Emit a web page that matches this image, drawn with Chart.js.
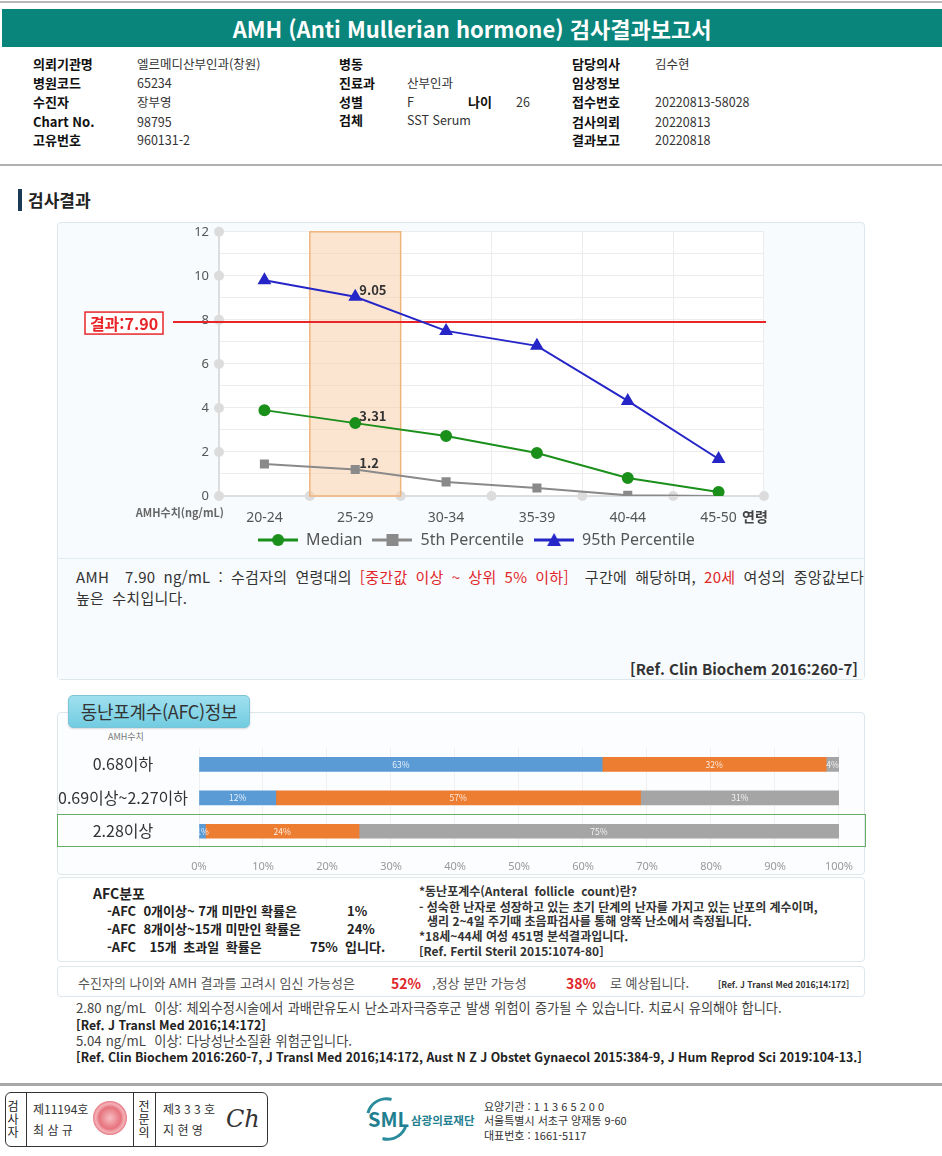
<!DOCTYPE html>
<html lang="ko">
<head>
<meta charset="utf-8">
<title>AMH 검사결과보고서</title>
<script src="https://cdn.jsdelivr.net/npm/chart.js@4.4.1/dist/chart.umd.min.js"></script>
<style>
  * { box-sizing: border-box; margin: 0; padding: 0; }
  html, body { width: 942px; height: 1156px; overflow: hidden; background: #fff; }
  body { position: relative; font-family: 'Noto Sans CJK KR', 'Noto Sans', sans-serif; color: #333; }
  .t { position: absolute; white-space: nowrap; line-height: 16px; }
  .b { font-weight: bold; }
  .red { color: #e0262a; }
  .box { position: absolute; border: 1px solid #dde7ec; border-radius: 4px; }

  .topline { position: absolute; left: 0; top: 1px; width: 942px; height: 2px; background: #b8b8b8; }
  .title { position: absolute; left: 2px; top: 9px; width: 940px; height: 38px; background: #0a857b; color: #fff;
    font: bold 22px 'Liberation Sans Narrow', 'Noto Sans CJK KR', sans-serif; text-align: center; line-height: 38px; }
  .info .lbl { font-size: 13px; font-weight: bold; color: #111; }
  .info .val { font-size: 12.5px; color: #333; }
  .sep { position: absolute; left: 0; width: 942px; height: 2px; background: #b0b0b0; }

  .head-bar { position: absolute; left: 18px; top: 189px; width: 4px; height: 22px; background: #1b3a57; }

  .chart-wrap { position: absolute; }
  .note { font-size: 15px; color: #333; line-height: 21px; letter-spacing: 0.3px; word-spacing: 3.5px; }

  .tab { position: absolute; left: 68px; top: 695px; width: 182px; height: 33px; border-radius: 5px;
    background: linear-gradient(#9fe0ef, #72cce1); border: 1px solid #7cc4d6; box-shadow: 0 1px 2px rgba(0,0,0,0.15);
    font-size: 18px; color: #333; text-align: center; line-height: 31px; letter-spacing: -0.3px; }
  .hl { position: absolute; left: 57px; top: 814px; width: 809px; height: 33px; border: 1.5px solid #66ad66; }

  .afc-l { font-size: 13px; font-weight: bold; color: #222; }
  .afc-r { font-size: 12px; font-weight: bold; color: #333; }
  .preg { font-size: 13px; color: #555; }
  .foot { font-size: 13.2px; color: #444; word-spacing: 0.5px; }
  .ref { font-size: 12.3px; font-weight: bold; color: #222; }

  .stamp { position: absolute; left: 5px; top: 1092px; width: 263px; height: 55px; border: 1px solid #333; border-radius: 6px; }
  .vline { position: absolute; top: 1092px; width: 1px; height: 55px; background: #333; }
  .vert { position: absolute; width: 14px; font-size: 12px; line-height: 13px; text-align: center; color: #222; }
  .seal { position: absolute; left: 93px; top: 1101px; width: 34px; height: 34px; border-radius: 50%;
    background: radial-gradient(circle, #f6b3b8 0%, #e25a66 45%, #f2a4ab 60%, #d94454 75%, #f5c6ca 100%); opacity: 0.85; }
  .sml-arc { position: absolute; left: 366px; top: 1097px; width: 42px; height: 44px; border-radius: 50%;
    border: 3px solid transparent; border-top-color: #2a8c9c; border-bottom-color: #2a8c9c; transform: rotate(-30deg); }
</style>
</head>
<body>

<div class="topline"></div>
<div class="title">AMH (Anti Mullerian hormone) 검사결과보고서</div>

<div class="info">
  <div class="t lbl" style="left:33px;top:56px">의뢰기관명</div>
  <div class="t val" style="left:137px;top:56px">엘르메디산부인과(창원)</div>
  <div class="t lbl" style="left:339px;top:56px">병동</div>
  <div class="t lbl" style="left:572px;top:56px">담당의사</div>
  <div class="t val" style="left:655px;top:56px">김수현</div>

  <div class="t lbl" style="left:33px;top:75px">병원코드</div>
  <div class="t val" style="left:137px;top:75px">65234</div>
  <div class="t lbl" style="left:339px;top:75px">진료과</div>
  <div class="t val" style="left:407px;top:75px">산부인과</div>
  <div class="t lbl" style="left:572px;top:75px">임상정보</div>

  <div class="t lbl" style="left:33px;top:94px">수진자</div>
  <div class="t val" style="left:137px;top:94px">장부영</div>
  <div class="t lbl" style="left:339px;top:94px">성별</div>
  <div class="t val" style="left:407px;top:94px">F</div>
  <div class="t lbl" style="left:468px;top:94px">나이</div>
  <div class="t val" style="left:516px;top:94px">26</div>
  <div class="t lbl" style="left:572px;top:94px">접수번호</div>
  <div class="t val" style="left:655px;top:94px">20220813-58028</div>

  <div class="t lbl" style="left:33px;top:114px">Chart No.</div>
  <div class="t val" style="left:137px;top:114px">98795</div>
  <div class="t lbl" style="left:339px;top:112px">검체</div>
  <div class="t val" style="left:407px;top:112px">SST Serum</div>
  <div class="t lbl" style="left:572px;top:114px">검사의뢰</div>
  <div class="t val" style="left:655px;top:114px">20220813</div>

  <div class="t lbl" style="left:33px;top:132px">고유번호</div>
  <div class="t val" style="left:137px;top:132px">960131-2</div>
  <div class="t lbl" style="left:572px;top:132px">결과보고</div>
  <div class="t val" style="left:655px;top:132px">20220818</div>
</div>
<div class="sep" style="top:164px"></div>

<div class="head-bar"></div>
<div class="t b" style="left:28px;top:190px;font-size:17px;line-height:20px;color:#222">검사결과</div>

<!-- AMH chart panel -->
<div class="box" style="left:57px;top:222px;width:808px;height:458px;background:#f7fbfd"></div>
<div class="chart-wrap" style="left:57px;top:214px;width:808px;height:344px"><canvas id="amhChart"></canvas></div>
<div style="position:absolute;left:58px;top:558px;width:806px;height:121px;background:#f8fbfd;border-top:1px solid #e2ebef"></div>
<div class="t note" style="left:76px;top:566px">AMH&nbsp; 7.90 ng/mL : 수검자의 연령대의 <span class="red">[중간값 이상 ~ 상위 5% 이하]</span>&nbsp; 구간에 해당하며, <span class="red">20세</span> 여성의 중앙값보다<br>높은 수치입니다.</div>
<div class="t b" style="right:84px;top:660px;font-size:15px;line-height:18px;color:#333">[Ref. Clin Biochem 2016:260-7]</div>

<!-- AFC panel -->
<div class="box" style="left:57px;top:712px;width:808px;height:163px;background:#fbfdfe"></div>
<div class="tab">동난포계수(AFC)정보</div>
<div class="t" style="left:108px;top:731px;font-size:9px;line-height:12px;color:#777">AMH수치</div>
<div class="chart-wrap" style="left:57px;top:735px;width:808px;height:140px"><canvas id="afcChart"></canvas></div>
<div class="hl"></div>

<!-- AFC distribution -->
<div class="box" style="left:57px;top:877px;width:808px;height:85px"></div>
<div class="t b" style="left:93px;top:885px;font-size:14px;color:#222">AFC분포</div>
<div class="t afc-l" style="left:107px;top:903px">-AFC&nbsp; 0개이상~ 7개 미만인 확률은</div>
<div class="t afc-l red" style="left:347px;top:903px">1%</div>
<div class="t afc-l" style="left:107px;top:921px">-AFC&nbsp; 8개이상~15개 미만인 확률은</div>
<div class="t afc-l red" style="left:347px;top:921px">24%</div>
<div class="t afc-l" style="left:107px;top:939px;word-spacing:3px">-AFC&nbsp; 15개 초과일 확률은</div>
<div class="t afc-l red" style="left:310px;top:939px">75%</div>
<div class="t afc-l" style="left:345px;top:939px">입니다.</div>

<div class="t afc-r" style="left:419px;top:883px">*동난포계수(Anteral&nbsp; follicle&nbsp; count)란?</div>
<div class="t afc-r" style="left:419px;top:899px">- 성숙한 난자로 성장하고 있는 초기 단계의 난자를 가지고 있는 난포의 계수이며,</div>
<div class="t afc-r" style="left:427px;top:913px">생리 2~4일 주기때 초음파검사를 통해 양쪽 난소에서 측정됩니다.</div>
<div class="t afc-r" style="left:419px;top:928px">*18세~44세 여성 451명 분석결과입니다.</div>
<div class="t afc-r" style="left:419px;top:943px">[Ref. Fertil Steril 2015:1074-80]</div>

<!-- pregnancy -->
<div class="box" style="left:57px;top:966px;width:808px;height:31px"></div>
<div class="t preg" style="left:78px;top:975px">수진자의 나이와 AMH 결과를 고려시 임신 가능성은</div>
<div class="t b red" style="left:391px;top:975px;font-size:14px">52%</div>
<div class="t preg" style="left:432px;top:975px">,정상 분만 가능성</div>
<div class="t b red" style="left:566px;top:975px;font-size:14px">38%</div>
<div class="t preg" style="left:610px;top:975px">로 예상됩니다.</div>
<div class="t b" style="left:718px;top:976px;font-size:8.5px;color:#333">[Ref. J Transl Med 2016;14:172]</div>

<div class="t foot" style="left:76px;top:1000px">2.80 ng/mL&nbsp; 이상: 체외수정시술에서 과배란유도시 난소과자극증후군 발생 위험이 증가될 수 있습니다. 치료시 유의해야 합니다.</div>
<div class="t ref" style="left:76px;top:1017px">[Ref. J Transl Med 2016;14:172]</div>
<div class="t foot" style="left:76px;top:1033px">5.04 ng/mL&nbsp; 이상: 다낭성난소질환 위험군입니다.</div>
<div class="t ref" style="left:76px;top:1049px">[Ref. Clin Biochem 2016:260-7, J Transl Med 2016;14:172, Aust N Z J Obstet Gynaecol 2015:384-9, J Hum Reprod Sci 2019:104-13.]</div>

<!-- footer -->
<div class="sep" style="top:1083px;height:3px;background:#a8a8a8"></div>
<div class="stamp"></div>
<div class="vline" style="left:26px"></div>
<div class="vline" style="left:133px"></div>
<div class="vline" style="left:155px"></div>
<div class="vert" style="left:6px;top:1099px">검<br>사<br>자</div>
<div class="t" style="left:33px;top:1101px;font-size:12px">제11194호</div>
<div class="t" style="left:33px;top:1122px;font-size:12px">최 삼 규</div>
<div class="seal"></div>
<div class="vert" style="left:137px;top:1099px">전<br>문<br>의</div>
<div class="t" style="left:163px;top:1101px;font-size:12px">제3 3 3 호</div>
<div class="t" style="left:163px;top:1122px;font-size:12px">지 현 영</div>
<div class="t" style="left:226px;top:1106px;font:italic 24px 'DejaVu Serif',serif;line-height:26px;color:#333">Ch</div>

<div class="sml-arc"></div>
<div class="t b" style="left:368px;top:1109px;font-size:20px;line-height:20px;color:#1f7f90">SML</div>
<div class="t b" style="left:411px;top:1112px;font-size:11.5px;color:#1f7f90">삼광의료재단</div>
<div class="t" style="left:484px;top:1098px;font-size:11px;color:#333">요양기관 : 1 1 3 6 5 2 0 0</div>
<div class="t" style="left:484px;top:1112px;font-size:11px;color:#333">서울특별시 서초구 양재동 9-60</div>
<div class="t" style="left:484px;top:1127px;font-size:11px;color:#333">대표번호 : 1661-5117</div>

<script>
// ── Data: AMH by age group (ng/mL) ──
const ageGroups = ['20-24', '25-29', '30-34', '35-39', '40-44', '45-50'];
const median = [3.9, 3.31, 2.73, 1.95, 0.82, 0.18];
const p5 = [1.45, 1.2, 0.64, 0.36, 0.03, 0.0];
const p95 = [9.8, 9.05, 7.5, 6.82, 4.32, 1.68];
const yTicks = [0, 2, 4, 6, 8, 10, 12];
const patientValue = 7.90;
const patientGroup = 1; // 25-29

// ── Data: AFC by AMH level (%) ──
const afcLevels = ['0.68이하', '0.69이상~2.27이하', '2.28이상'];
const afcUnder8 = [63, 12, 1];
const afc8to15 = [35, 57, 24];
const afcOver15 = [2, 31, 75];
const afcTextUnder8 = ['63%', '12%', '1%'];
const afcText8to15 = ['32%', '57%', '24%'];
const afcTextOver15 = ['4%', '31%', '75%'];
const pctTicks = [0, 10, 20, 30, 40, 50, 60, 70, 80, 90, 100];

const RED = '#e8262a';
const KR = "'Noto Sans CJK KR', 'Noto Sans', sans-serif";

// ── Legend icons: line with marker ──
function legendIcon(color, style) {
  const c = document.createElement('canvas');
  c.width = 40; c.height = 14;
  const g = c.getContext('2d');
  g.strokeStyle = color; g.fillStyle = color; g.lineWidth = 3;
  g.beginPath(); g.moveTo(0, 7); g.lineTo(40, 7); g.stroke();
  g.beginPath();
  if (style === 'circle') g.arc(20, 7, 6, 0, Math.PI * 2);
  else if (style === 'rect') g.rect(14, 1, 12, 12);
  else { g.moveTo(20, 0); g.lineTo(27, 13); g.lineTo(13, 13); g.closePath(); }
  g.fill();
  return c;
}

// ── Plugins ──
const amhOverlay = {
  id: 'amhOverlay',
  beforeDraw(chart) {
    const { ctx, chartArea: a } = chart;
    ctx.save();
    ctx.fillStyle = '#fff';
    ctx.fillRect(a.left, a.top, a.right - a.left, a.bottom - a.top);
    ctx.restore();
  },
  beforeDatasetsDraw(chart) {
    const { ctx, chartArea: a, scales: { x, y } } = chart;
    const half = (x.getPixelForValue(1) - x.getPixelForValue(0)) / 2;
    ctx.save();
    // axis dots
    ctx.fillStyle = '#dcdcdc';
    yTicks.forEach(v => { ctx.beginPath(); ctx.arc(a.left, y.getPixelForValue(v), 5, 0, Math.PI * 2); ctx.fill(); });
    ageGroups.forEach((_, i) => { ctx.beginPath(); ctx.arc(x.getPixelForValue(i) + half, a.bottom, 5, 0, Math.PI * 2); ctx.fill(); });
    // patient age band
    const cx = x.getPixelForValue(patientGroup);
    const top = y.getPixelForValue(y.max), bot = y.getPixelForValue(0);
    ctx.fillStyle = 'rgba(250, 212, 176, 0.6)';
    ctx.fillRect(cx - half, top, half * 2, bot - top);
    ctx.strokeStyle = '#efb47c'; ctx.lineWidth = 1.5;
    ctx.strokeRect(cx - half, top, half * 2, bot - top);
    // patient result line + label
    const py = y.getPixelForValue(patientValue);
    ctx.strokeStyle = RED; ctx.lineWidth = 2;
    ctx.beginPath(); ctx.moveTo(a.left - 46, py); ctx.lineTo(a.right + 2, py); ctx.stroke();
    const bx = a.left - 134, bw = 78, bh = 22;
    ctx.fillStyle = '#fff'; ctx.fillRect(bx, py - bh / 2 + 1, bw, bh);
    ctx.lineWidth = 1.5; ctx.strokeRect(bx, py - bh / 2 + 1, bw, bh);
    ctx.fillStyle = RED; ctx.font = `bold 16px ${KR}`;
    ctx.textAlign = 'center'; ctx.textBaseline = 'middle';
    ctx.fillText('결과:' + patientValue.toFixed(2), bx + bw / 2, py + 2);
    ctx.restore();
  },
  afterDatasetsDraw(chart) {
    const { ctx, chartArea: a } = chart;
    ctx.save();
    ctx.fillStyle = '#333'; ctx.font = `bold 13px ${KR}`;
    ctx.textAlign = 'left'; ctx.textBaseline = 'middle';
    chart.data.datasets.forEach((ds, i) => {
      const pt = chart.getDatasetMeta(i).data[patientGroup];
      ctx.fillText(String(ds.data[patientGroup]), pt.x + 4, pt.y - 7);
    });
    // axis titles
    ctx.fillStyle = '#666'; ctx.font = `bold 11px ${KR}`; ctx.textAlign = 'right';
    ctx.fillText('AMH수치(ng/mL)', a.left + 5, a.bottom + 17);
    ctx.fillStyle = '#444'; ctx.font = `bold 14px ${KR}`; ctx.textAlign = 'left';
    ctx.fillText('연령', a.right - 22, a.bottom + 21);
    ctx.restore();
  }
};

const afcLabels = {
  id: 'afcLabels',
  afterDatasetsDraw(chart) {
    const { ctx } = chart;
    const texts = [afcTextUnder8, afcText8to15, afcTextOver15];
    ctx.save();
    ctx.fillStyle = 'rgba(255,255,255,0.85)';
    ctx.font = `8.5px ${KR}`; ctx.textAlign = 'center'; ctx.textBaseline = 'middle';
    chart.data.datasets.forEach((ds, i) => {
      chart.getDatasetMeta(i).data.forEach((bar, j) => {
        const { x, base, y } = bar.getProps(['x', 'base', 'y'], true);
        ctx.fillText(texts[i][j], (x + base) / 2, y);
      });
    });
    ctx.restore();
  }
};

// ── AMH line chart ──
new Chart(document.getElementById('amhChart'), {
  type: 'line',
  data: {
    labels: ageGroups,
    datasets: [
      { label: 'Median', data: median, borderColor: '#1a8f1a', backgroundColor: '#1a8f1a',
        pointStyle: 'circle', pointRadius: 5, borderWidth: 2 },
      { label: '5th Percentile', data: p5, borderColor: '#8a8a8a', backgroundColor: '#8a8a8a',
        pointStyle: 'rect', pointRadius: 5, borderWidth: 2 },
      { label: '95th Percentile', data: p95, borderColor: '#2626c8', backgroundColor: '#2626c8',
        pointStyle: 'triangle', pointRadius: 6, borderWidth: 2 },
    ],
  },
  options: {
    responsive: true,
    maintainAspectRatio: false,
    animation: false,
    layout: { padding: { left: 132, right: 101, top: 2, bottom: 0 } },
    plugins: {
      tooltip: { enabled: false },
      legend: {
        position: 'bottom',
        labels: {
          usePointStyle: true, pointStyleWidth: 40, boxHeight: 14, padding: 10,
          color: '#555', font: { size: 16, family: 'Noto Sans' },
          generateLabels: chart => chart.data.datasets.map((ds, i) => ({
            text: ds.label, datasetIndex: i, hidden: false, fontColor: '#555',
            pointStyle: legendIcon(ds.borderColor, ds.pointStyle),
            fillStyle: 'transparent', strokeStyle: 'transparent', lineWidth: 0,
          })),
        },
      },
    },
    scales: {
      x: {
        offset: true,
        grid: { offset: true, color: '#ececec', drawTicks: false },
        border: { color: '#dddddd', width: 2 },
        ticks: { color: '#555', font: { size: 14, family: 'Noto Sans' }, padding: 14 },
        afterFit: s => { s.height = 26; },
      },
      y: {
        min: 0, max: 12,
        grid: { color: '#ececec', drawTicks: false },
        border: { color: '#dddddd', width: 2 },
        ticks: {
          stepSize: 1, padding: 10, color: '#555', font: { size: 13, family: 'Noto Sans' },
          callback: v => (yTicks.includes(v) ? v : ''),
        },
        afterFit: s => { s.width = 30; },
      },
    },
  },
  plugins: [amhOverlay],
});

// ── AFC stacked bars ──
new Chart(document.getElementById('afcChart'), {
  type: 'bar',
  data: {
    labels: afcLevels,
    datasets: [
      { label: 'AFC 0~7', data: afcUnder8, backgroundColor: '#5b9bd5' },
      { label: 'AFC 8~15', data: afc8to15, backgroundColor: '#ed7d31' },
      { label: 'AFC >15', data: afcOver15, backgroundColor: '#a5a5a5' },
    ],
  },
  options: {
    indexAxis: 'y',
    responsive: true,
    maintainAspectRatio: false,
    animation: false,
    barThickness: 14,
    layout: { padding: { left: 0, right: 23, top: 5, bottom: 0 } },
    plugins: { legend: { display: false }, tooltip: { enabled: false } },
    scales: {
      x: {
        stacked: true, min: 0, max: 100,
        afterBuildTicks: s => { s.ticks = pctTicks.map(v => ({ value: v })); },
        grid: { color: '#f0f0f0', drawTicks: false },
        border: { display: false },
        ticks: { color: '#999', font: { size: 11, family: 'Noto Sans' }, padding: 12, callback: v => v + '%' },
        afterFit: s => { s.height = 27; },
      },
      y: {
        stacked: true,
        grid: { display: false },
        border: { display: false },
        ticks: { crossAlign: 'center', padding: 3, color: '#333', font: { size: 16, family: KR } },
        afterFit: s => { s.width = 142; },
      },
    },
  },
  plugins: [afcLabels],
});
</script>
</body>
</html>
